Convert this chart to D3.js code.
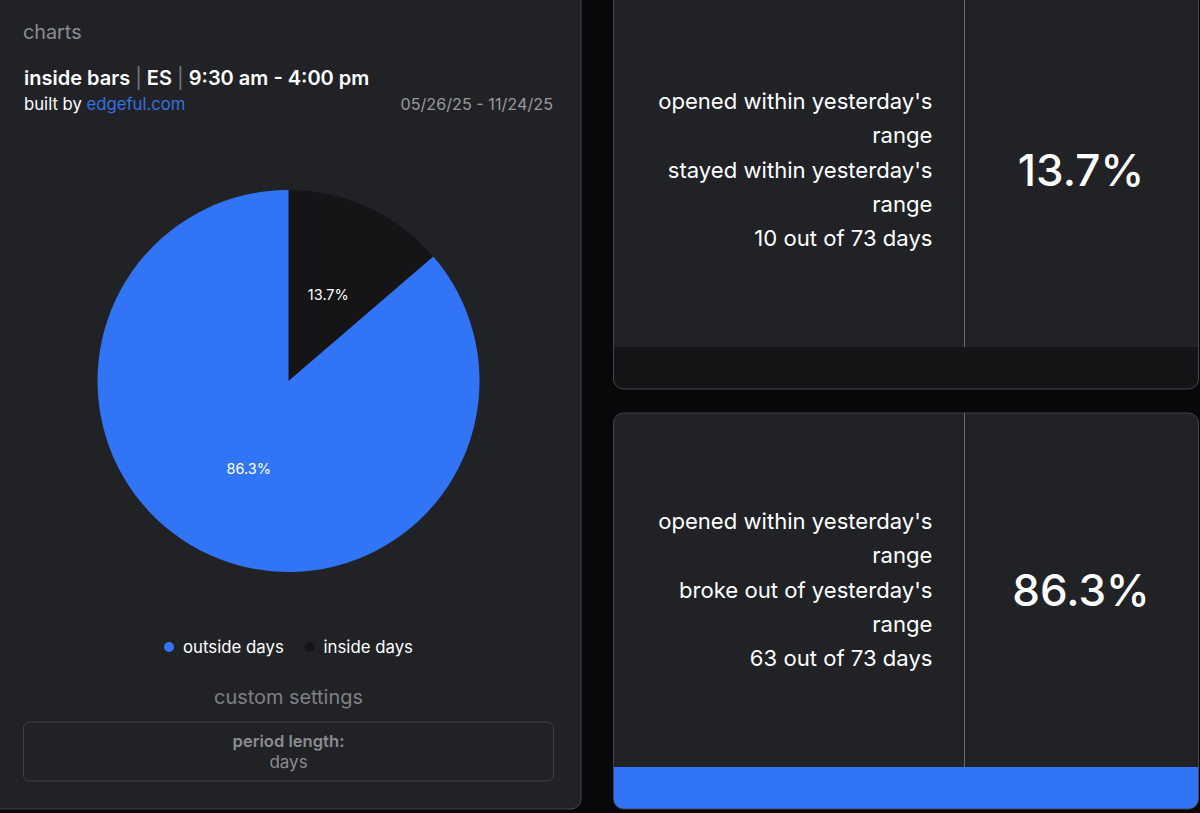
<!DOCTYPE html>
<html>
<head>
<meta charset="utf-8">
<script src="https://cdn.jsdelivr.net/npm/d3@7"></script>
<style>
  html, body { margin: 0; padding: 0; background: #08080a; overflow: hidden; }
  text { font-family: "Inter", "Noto Sans", sans-serif; }
</style>
</head>
<body>
<div id="chart"></div>
<script>
// pie data
var categories = ["inside days", "outside days"];
var counts = [10, 63];
var percents = ["13.7%", "86.3%"];
var colors = ["#151517", "#3174f6"];

// legend is listed the other way round from the slices
var legendOrder = ["outside days", "inside days"];

var topLines = ["opened within yesterday's", "range", "stayed within yesterday's", "range", "10 out of 73 days"];
var bottomLines = ["opened within yesterday's", "range", "broke out of yesterday's", "range", "63 out of 73 days"];

var width = 1200, height = 813;
var cardFill = "#212226", cardStroke = "#44454a";

var svg = d3.select("#chart").append("svg")
  .attr("width", width)
  .attr("height", height)
  .style("display", "block");

function label(x, y, str, size, fill, anchor, weight) {
  return svg.append("text")
    .attr("x", x)
    .attr("y", y)
    .attr("text-anchor", anchor || "start")
    .attr("font-size", size)
    .attr("font-weight", weight || 400)
    .attr("fill", fill)
    .text(str);
}

// left card
svg.append("rect").attr("x", -20).attr("y", -20).attr("width", 601).attr("height", 829)
  .attr("rx", 10).attr("fill", cardFill).attr("stroke", cardStroke);

label(23, 38.5, "charts", 19.8, "#8b8c90");

var title = label(24, 85, "", 20, "#ffffff", "start", 600);
title.append("tspan").text("inside bars ");
title.append("tspan").attr("fill", "#77787c").attr("font-weight", 400).text("|");
title.append("tspan").text(" ES ");
title.append("tspan").attr("fill", "#77787c").attr("font-weight", 400).text("|");
title.append("tspan").text(" 9:30 am - 4:00 pm");

var built = label(24, 110, "", 16.7, "#ffffff");
built.append("tspan").text("built by ");
built.append("tspan").attr("fill", "#3570e0").text("edgeful.com");

label(553, 110, "05/26/25 - 11/24/25", 16.2, "#98999c", "end");

// pie
var radius = 191;
var pie = d3.pie().sort(null).value(function (d, i) { return d; });
var arc = d3.arc().innerRadius(0).outerRadius(radius);
var pieG = svg.append("g").attr("transform", "translate(288.5,381)");

pieG.selectAll("path")
  .data(pie(counts))
  .enter()
  .append("path")
  .attr("d", arc)
  .attr("fill", function (d, i) { return colors[i]; });

pieG.selectAll("text")
  .data(pie(counts))
  .enter()
  .append("text")
  .attr("transform", function (d) { return "translate(" + arc.centroid(d) + ")"; })
  .attr("text-anchor", "middle")
  .attr("dy", "0.42em")
  .attr("font-size", 14.5)
  .attr("fill", "#ffffff")
  .text(function (d, i) { return percents[i]; });

// legend
var legendX = d3.scaleOrdinal().domain(legendOrder).range([169, 309.5]);
legendOrder.forEach(function (name) {
  svg.append("circle")
    .attr("cx", legendX(name))
    .attr("cy", 647)
    .attr("r", 5)
    .attr("fill", colors[categories.indexOf(name)]);
  label(legendX(name) + 14, 652.5, name, 16.8, "#ffffff");
});

// custom settings box
label(288.5, 704, "custom settings", 19.9, "#7f8084", "middle");
svg.append("rect").attr("x", 23.5).attr("y", 722).attr("width", 530).attr("height", 59)
  .attr("rx", 6).attr("fill", "none").attr("stroke", "#404145");
label(288.5, 746.5, "period length:", 16.6, "#8b8c90", "middle", 600);
label(288.5, 767.5, "days", 17, "#8b8c90", "middle");

// right hand cards
function statCard(y, h, footY, footFill, lines, textTop, value, valueY) {
  var clipId = "clip" + y;
  svg.append("clipPath").attr("id", clipId).append("rect")
    .attr("x", 613.5).attr("y", y).attr("width", 585).attr("height", h).attr("rx", 10);
  svg.append("rect").attr("x", 613.5).attr("y", y).attr("width", 585).attr("height", h)
    .attr("rx", 10).attr("fill", cardFill);
  svg.append("rect").attr("x", 613.5).attr("y", footY).attr("width", 585).attr("height", y + h - footY)
    .attr("fill", footFill).attr("clip-path", "url(#" + clipId + ")");
  svg.append("rect").attr("x", 613.5).attr("y", y).attr("width", 585).attr("height", h)
    .attr("rx", 10).attr("fill", "none").attr("stroke", cardStroke);
  svg.append("line").attr("x1", 964.5).attr("x2", 964.5).attr("y1", Math.max(y, 0)).attr("y2", footY)
    .attr("stroke", "#6a6b6f");
  lines.forEach(function (str, i) {
    label(932.5, textTop + i * 34.25, str, 22.1, "#ffffff", "end");
  });
  label(1081, valueY, value, 44, "#ffffff", "middle", 500);
}

statCard(-30, 419, 347, "#151517", topLines, 109.2, percents[0], 186);
statCard(413, 396, 767, colors[1], bottomLines, 529.2, percents[1], 606);
</script>
</body>
</html>
